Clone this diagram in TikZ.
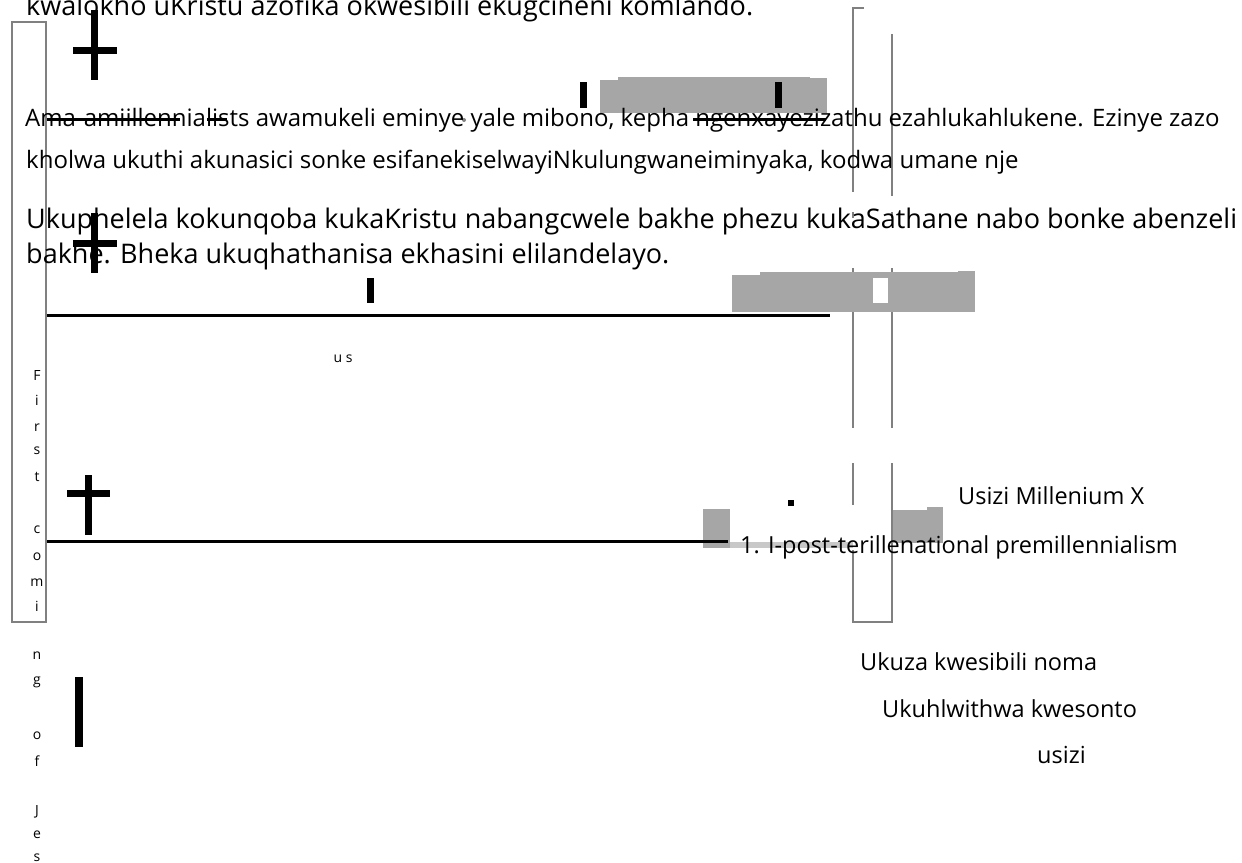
\documentclass[tikz,border=0pt]{standalone}
\usepackage{fontspec}
\setmainfont{Open Sans}
\definecolor{boxgray}{HTML}{A6A6A6}
\definecolor{framegray}{HTML}{808080}
\definecolor{stripgray}{HTML}{C8C8C8}
\tikzset{bigtext/.style={anchor=base west, inner sep=0pt, font=\fontsize{27}{32}\selectfont},
    midtext/.style={anchor=base west, inner sep=0pt, font=\fontsize{24}{29}\selectfont},
    labeltext/.style={anchor=base west, inner sep=0pt, font=\fontsize{23.5}{28}\selectfont},
    tinytext/.style={anchor=base, inner sep=0pt, font=\fontsize{14}{16}\selectfont},
    frame/.style={framegray, line width=2pt},
    crossbar/.style={line width=7pt},
    strike/.style={line width=3pt},
    timeline/.style={line width=3pt}}

\begin{document}
\begin{tikzpicture}[x=1pt, y=-1pt]
        \useasboundingbox (0,0) rectangle (1242,862);
        % gray blocks
        \fill[boxgray] (600,80) rectangle (618,113);
        \fill[boxgray] (618,77) rectangle (810,113);
        \fill[boxgray] (810,78) rectangle (827,113);
        \fill[stripgray] (730,542) rectangle (853,548);
        \fill[boxgray] (703,509) rectangle (730,548);
        \fill[boxgray] (892,510) rectangle (927,543);
        \fill[boxgray] (927,507) rectangle (943,543);
        % frames
        \draw[frame] (12,22) rectangle (46,622);
        \draw[frame] (864,8) -- (853,8) -- (853,192);
        \draw[frame] (892,34) -- (892,196);
        \draw[frame] (853,212) -- (853,218);
        \draw[frame] (892,212) -- (892,218);
        \draw[frame] (853,268) -- (853,428);
        \draw[frame] (892,268) -- (892,428);
        \draw[frame] (853,463) -- (853,505);
        \draw[frame] (853,550) -- (853,622) -- (892,622) -- (892,463);
        \fill[boxgray] (732,275) rectangle (760,312);
        \fill[boxgray] (760,272) rectangle (958,312);
        \fill[boxgray] (958,271) rectangle (975,312);
        \fill[white] (873,278) rectangle (888,303);
        % black marks
        \draw[timeline] (47,315) -- (830,315);
        \draw[timeline] (47,541) -- (728,541);
        \draw[crossbar] (583,82) -- (583,108);
        \draw[crossbar] (778,82) -- (778,108);
        \draw[crossbar] (370,278) -- (370,303);
        \draw[line width=8pt] (79,677) -- (79,747);
        \draw[crossbar] (94,10) -- (94,80);
        \draw[crossbar] (73,50) -- (117,50);
        \draw[crossbar] (94,213) -- (94,273);
        \draw[crossbar] (73,243) -- (117,243);
        \draw[crossbar] (88,475) -- (88,535);
        \draw[crossbar] (67,493) -- (110,493);
        \fill (788,500) rectangle (794,506);
        \fill[gray] (464,120) circle (2);
        % texts
        \node[bigtext] (intro) at (26,16) {kwalokho uKristu azofika okwesibili ekugcineni komlando.};
        \node[midtext] (amillA) at (25,126) {Ama-amiillennialists awamukeli eminye yale mibono, kepha ngenxayezizathu ezahlukahlukene. Ezinye zazo};
        \node[midtext] (amillB) at (26,168) {kholwa ukuthi akunasici sonke esifanekiselwayiNkulungwaneiminyaka, kodwa umane nje};
        \node[bigtext] (victoryA) at (26,228) {Ukuphelela kokunqoba kukaKristu nabangcwele bakhe phezu kukaSathane nabo bonke abenzeli};
        \node[bigtext] (victoryB) at (26,263) {bakhe. Bheka ukuqhathanisa ekhasini elilandelayo.};
        \node[tinytext] (us) at (343,362) {u s};
        \node[labeltext] (tribmill) at (958,504) {Usizi Millenium X};
        \node[labeltext] (postmill) at (740,553) {1. I-post-terillenational premillennialism};
        \node[labeltext] (secondA) at (860,670) {Ukuza kwesibili noma};
        \node[labeltext] (secondB) at (882,717) {Ukuhlwithwa kwesonto};
        \node[labeltext] (secondC) at (1037,763) {usizi};
        \foreach \ch/\yy [count=\i] in {F/380,i/405,r/431,s/454,t/481,c/533,o/560,m/586,i/611,n/659,g/684,o/739,f/766,J/815,e/838,s/861}
            \node[tinytext] (coming\i) at (37,\yy) {\ch};
        % strike-throughs
        \draw[strike] (47,119) -- (180,119);
        \draw[strike] (207,119) -- (227,119);
        \draw[strike] (693,119) -- (826,119);
    \end{tikzpicture}
\end{document}
